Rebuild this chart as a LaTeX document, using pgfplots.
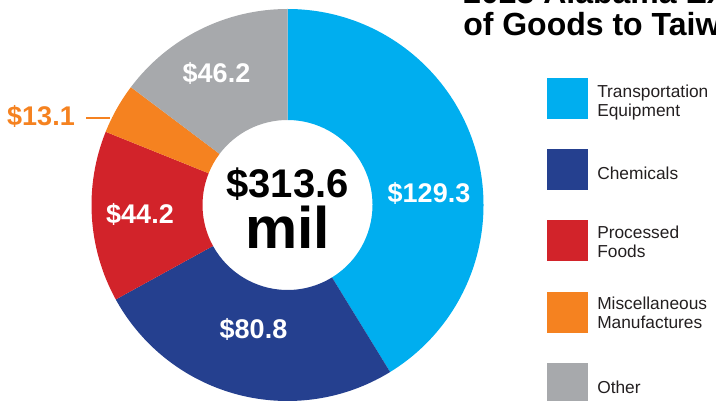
\documentclass[border=0pt]{standalone}
\usepackage{fontspec}
\setmainfont{Liberation Sans}
\usepackage{pgfplots}
\usepackage{pgfplotstable}
\pgfplotsset{compat=1.18}
\definecolor{cTrans}{HTML}{00AEEF}
\definecolor{cChem}{HTML}{25408F}
\definecolor{cFood}{HTML}{D2232A}
\definecolor{cMisc}{HTML}{F58220}
\definecolor{cOther}{HTML}{A7A9AC}
\definecolor{cText}{HTML}{231F20}
\pgfplotstableread{
value color
129.3 cTrans
80.8 cChem
44.2 cFood
13.1 cMisc
46.2 cOther
}\slices
\newcommand\lblfont{\fontsize{20.25pt}{20.25pt}\selectfont\bfseries}
\newcommand\legfont{\fontsize{13pt}{14.25pt}\selectfont}
\begin{document}
\begin{tikzpicture}
\useasboundingbox (0,0) rectangle (537pt,300pt);
\clip (0,0) rectangle (537pt,300pt);
\begin{axis}[x=0.75pt,y=0.75pt,xmin=0,xmax=716,ymin=0,ymax=400,
  hide axis,clip=false,at={(0pt,0pt)},anchor=south west,enlargelimits=false]
\pgfmathsetmacro\total{0}
\pgfplotsforeachungrouped \i in {0,...,4}{%
  \pgfplotstablegetelem{\i}{value}\of\slices
  \pgfmathsetmacro\total{\total+\pgfplotsretval}%
}
\pgfmathsetmacro\cum{0}
\pgfplotsforeachungrouped \i in {0,...,4}{%
  \pgfplotstablegetelem{\i}{value}\of\slices
  \let\slval\pgfplotsretval
  \pgfplotstablegetelem{\i}{color}\of\slices
  \let\slcol\pgfplotsretval
  \pgfmathsetmacro\aS{90-(\cum/\total)*360}%
  \pgfmathsetmacro\cum{\cum+\slval}%
  \pgfmathsetmacro\aE{90-(\cum/\total)*360}%
  \edef\temp{\noexpand\fill[\slcol] (axis cs:{287.5+196*cos(\aS)},{195+196*sin(\aS)}) arc[start angle=\aS, end angle=\aE, radius=147pt] -- (axis cs:{287.5+85*cos(\aE)},{195+85*sin(\aE)}) arc[start angle=\aE, end angle=\aS, radius=63.75pt] -- cycle;}%
  \temp
}
% slice labels
\node[font=\lblfont, text=white, anchor=base] at (axis cs:429,198) {\$129.3};
\node[font=\lblfont, text=white, anchor=base] at (axis cs:253.5,62) {\$80.8};
\node[font=\lblfont, text=white, anchor=base] at (axis cs:140,177) {\$44.2};
\node[font=\lblfont, text=white, anchor=base] at (axis cs:216.5,317) {\$46.2};
\node[font=\lblfont, text=cMisc, anchor=base] at (axis cs:41,274) {\$13.1};
\draw[cMisc, line width=1.5pt] (axis cs:86,282) -- (axis cs:110,282);
% centre
\node[font=\fontsize{30pt}{30pt}\selectfont\bfseries, anchor=base] at (axis cs:287.5,203) {\$313.6};
\node[font=\fontsize{44pt}{44pt}\selectfont\bfseries, anchor=base] at (axis cs:287.5,152) {mil};
% title
\node[font=\fontsize{24pt}{24pt}\selectfont\bfseries, anchor=base west, inner sep=0pt] at (axis cs:463,396) {2023 Alabama Exports};
\node[font=\fontsize{24pt}{24pt}\selectfont\bfseries, anchor=base west, inner sep=0pt] at (axis cs:463,364) {of Goods to Taiwan};
% legend
\fill[cTrans] (axis cs:547,281) rectangle (axis cs:588,322);
\fill[cChem] (axis cs:547,210) rectangle (axis cs:588,251);
\fill[cFood] (axis cs:547,139) rectangle (axis cs:588,180);
\fill[cMisc] (axis cs:547,67) rectangle (axis cs:588,108);
\fill[cOther] (axis cs:547,-4) rectangle (axis cs:588,37);
\node[font=\legfont, text=cText, anchor=base west, inner sep=0pt] at (axis cs:597,302.3) {Transportation};
\node[font=\legfont, text=cText, anchor=base west, inner sep=0pt] at (axis cs:597,283) {Equipment};
\node[font=\legfont, text=cText, anchor=base west, inner sep=0pt] at (axis cs:597,220.7) {Chemicals};
\node[font=\legfont, text=cText, anchor=base west, inner sep=0pt] at (axis cs:597,161.7) {Processed};
\node[font=\legfont, text=cText, anchor=base west, inner sep=0pt] at (axis cs:597,142.3) {Foods};
\node[font=\legfont, text=cText, anchor=base west, inner sep=0pt] at (axis cs:597,90.7) {Miscellaneous};
\node[font=\legfont, text=cText, anchor=base west, inner sep=0pt] at (axis cs:597,71.7) {Manufactures};
\node[font=\legfont, text=cText, anchor=base west, inner sep=0pt] at (axis cs:597,6.7) {Other};
\end{axis}
\end{tikzpicture}
\end{document}
